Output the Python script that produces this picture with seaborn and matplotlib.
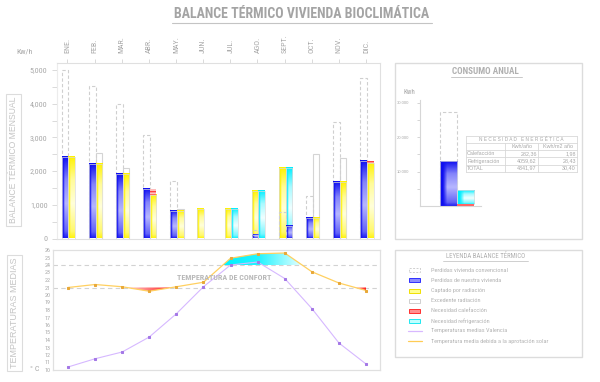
import numpy as np
import pandas as pd
import matplotlib
matplotlib.use('Agg')
import matplotlib.pyplot as plt
import seaborn as sns
from matplotlib.patches import Rectangle
from matplotlib.lines import Line2D
from matplotlib import font_manager
from matplotlib.colors import to_rgb

# ---------------- DATA ----------------
meses = ['ENE.', 'FEB.', 'MAR.', 'ABR.', 'MAY.', 'JUN.', 'JUL.', 'AGO.', 'SEPT.', 'OCT.', 'NOV.', 'DIC.']
meses_verano = ['JUN.', 'JUL.', 'AGO.', 'SEPT.']
perdidas_convencional = [5000, 4540, 3980, 3070, 1700, 0, 0, 250, 800, 1275, 3450, 4765]
perdidas_vivienda = [2430, 2215, 1920, 1480, 815, 0, 0, 100, 370, 600, 1665, 2305]
captado_radiacion = [2430, 2215, 1920, 1305, 815, 875, 880, 1420, 2100, 600, 1665, 2235]
excedente_radiacion = [0, 315, 180, 0, 75, 0, 0, 0, 0, 1910, 725, 0]
necesidad_calefaccion = [0, 0, 0, 175, 0, 0, 0, 0, 0, 0, 0, 70]
necesidad_refrigeracion = [0, 0, 0, 0, 0, 0, 880, 1420, 2100, 0, 0, 0]

temp_valencia = [10.4, 11.5, 12.4, 14.4, 17.5, 21.1, 24.0, 24.4, 22.2, 18.2, 13.6, 10.8]
temp_solar = [21.0, 21.4, 21.1, 20.5, 21.1, 21.7, 24.9, 25.5, 25.6, 23.1, 21.6, 20.6]
confort_min, confort_max = 21, 24

anual_convencional = 27200
anual_vivienda = 12970
anual_calefaccion = 282.36
anual_refrigeracion = 4059.62

tabla_filas = ['Calefacción', 'Refrigeración', 'TOTAL']
tabla_kwh = ['282,36', '4059,62', '4341,97']
tabla_kwh_m2 = ['1,98', '28,43', '30,40']

leyenda = ['Perdidas vivienda convencional', 'Perdidas de nuestra vivienda', 'Captado por radiación',
           'Excedente radiación', 'Necesidad calefacción', 'Necesidad refrigeración',
           'Temperaturas medias Valencia', 'Temperatura media debida a la aprotación solar']

df = pd.DataFrame({'mes': meses, 'conv': perdidas_convencional, 'viv': perdidas_vivienda,
                   'cap': captado_radiacion, 'exc': excedente_radiacion,
                   'cal': necesidad_calefaccion, 'ref': necesidad_refrigeracion,
                   'tv': temp_valencia, 'ts': temp_solar})
df['i'] = np.arange(len(df))

# ---------------- STYLE ----------------
sns.set_style('white')
names = {f.name for f in font_manager.fontManager.ttflist}
NARROW = next((n for n in ['Liberation Sans Narrow', 'Roboto Condensed', 'Open Sans Condensed'] if n in names), None)
REG = 'Liberation Sans' if 'Liberation Sans' in names else 'DejaVu Sans'
plt.rcParams['font.family'] = [REG, 'DejaVu Sans']
NF = NARROW if NARROW else REG

GRAY = '#a8a8a8'
LGRAY = '#d4d4d4'
W, H = 600, 382
fig = plt.figure(figsize=(6, 3.82), dpi=100)


def ax_px(x0, y0, x1, y1):
    return fig.add_axes([x0 / W, 1 - y1 / H, (x1 - x0) / W, (y1 - y0) / H])


def fx(x):
    return x / W


def fy(y):
    return 1 - y / H


BLUE = ((15, 15, 240), (182, 182, 255))
YELLOW = ((255, 242, 0), (255, 255, 218))
CYAN = ((0, 238, 255), (240, 255, 255))


def grad_rect(ax, x0, w, y0, h, cols, z):
    if h <= 0:
        return
    d = np.array(cols[0]) / 255.0
    l = np.array(cols[1]) / 255.0
    t = np.linspace(0, 1, 80)[:, None]
    s = np.linspace(0, 1, 16)[None, :]
    L = np.interp(t, [0, 0.08, 0.42, 0.72, 0.9, 1.0], [0.1, 0.5, 1.0, 0.7, 0.25, 0.0])
    Hs = np.clip((s - 0.15) / 0.25, 0, 1)
    f = (L * Hs)[..., None]
    img = d + (l - d) * f
    ax.imshow(img, extent=[x0, x0 + w, y0, y0 + h], origin='lower', aspect='auto',
              interpolation='bilinear', zorder=z)
    ax.add_patch(Rectangle((x0, y0), w, h, fill=False, ec='#dadada', lw=0.5, zorder=z + 0.05))


def red_rect(ax, x0, w, y0, h, z):
    if h <= 0:
        return
    ax.add_patch(Rectangle((x0, y0), w, h, fc='#ffc0c0', ec='#ff4040', hatch='-----', lw=0, zorder=z))


# ---------------- MAIN BAR CHART ----------------
ax = ax_px(56.5, 63, 380, 238.5)
BW = 0.245
L_OFF = -0.088 - BW / 2
R_OFF = 0.157 - BW / 2
lado_azul = {'SEPT.': R_OFF}

for _, r in df.iterrows():
    i = r['i']
    verano = r['mes'] in meses_verano
    xl, xr = i + L_OFF, i + R_OFF
    if r['exc'] > 0:
        ax.add_patch(Rectangle((xr, 0), BW, r['cap'] + r['exc'], fc='white', ec=LGRAY, lw=0.8, zorder=1))
    if r['conv'] > 0:
        ax.add_patch(Rectangle((xl, 0), BW, r['conv'], fill=False, ec='#cfcfcf', lw=0.8,
                               ls=(0, (3, 2)), zorder=4 if verano else 1))
    if verano:
        grad_rect(ax, xl, BW, 0, r['cap'], YELLOW, 2)
        grad_rect(ax, xr, BW, 0, r['ref'], CYAN, 2)
        grad_rect(ax, i + lado_azul.get(r['mes'], L_OFF), BW, 0, r['viv'], BLUE, 3)
    else:
        grad_rect(ax, xl, BW, 0, r['viv'], BLUE, 2)
        grad_rect(ax, xr, BW, 0, r['cap'], YELLOW, 2)
        red_rect(ax, xr, BW, r['cap'], r['cal'], 3)

ax.set_xlim(-0.405, 11.516)
ax.set_ylim(0, 5208)
ax.xaxis.tick_top()
ax.set_xticks(df['i'])
ax.set_xticklabels(meses, rotation=90, fontsize=5.8, color=GRAY, family=NF)
ax.tick_params(axis='x', which='both', direction='out', length=3, width=0.6, color=LGRAY, pad=4)
ax.set_yticks(range(0, 5001, 1000))
ax.set_yticklabels(['0', '1,000', '2,000', '3,000', '4,000', '5,000'], fontsize=5.8, color=GRAY, family=NF)
ax.set_yticks(range(500, 5000, 1000), minor=True)
ax.tick_params(axis='y', which='both', direction='out', length=3.5, width=0.6, color=LGRAY, pad=3,
               left=True)
for k, sp in ax.spines.items():
    sp.set_color('#e0e0e0')
    sp.set_linewidth(0.8)
ax.spines['left'].set_color('#ececec')

# ---------------- TEMPERATURE CHART ----------------
ax2 = ax_px(53, 250, 380, 370)
x = df['i'].to_numpy(dtype=float)
ts = df['ts'].to_numpy()


def grad_fill(mask, ref, c_from, c_to, stops):
    coll = ax2.fill_between(x, ts, ref, where=mask, interpolate=True, color='none', lw=0)
    a = np.array(to_rgb(c_from))
    b = np.array(to_rgb(c_to))
    s = np.interp(np.linspace(0, 1, 64), stops[0], stops[1])[None, :, None]
    img = np.repeat(a + (b - a) * s, 2, axis=0)
    for path in coll.get_paths():
        ext = path.get_extents()
        if ext.width <= 0 or ext.height <= 0:
            continue
        im = ax2.imshow(img, extent=[ext.x0, ext.x1, ext.y0, ext.y1], origin='lower',
                        aspect='auto', interpolation='bilinear', zorder=2)
        im.set_clip_path(path, transform=ax2.transData)


grad_fill(ts > confort_max, confort_max, '#00f2ff', '#e8ffff', ([0, 0.45, 1], [0, 0.15, 1]))
grad_fill(ts < confort_min, confort_min, '#ffd0d0', '#ff1818', ([0, 1], [0, 1]))

for yv in (confort_min, confort_max):
    ax2.axhline(yv, color='#d2d2d2', lw=0.8, ls=(0, (4, 3)), zorder=1)

sns.lineplot(data=df, x='i', y='tv', ax=ax2, color='#d6b8ff', lw=0.8, marker='s', markersize=1.8,
             markerfacecolor='#a478e6', markeredgecolor='#a478e6', zorder=4)
sns.lineplot(data=df, x='i', y='ts', ax=ax2, color='#ffd060', lw=0.9, marker='s', markersize=1.8,
             markerfacecolor='#e8a838', markeredgecolor='#e8a838', zorder=4)
ax2.text(5.75, 22.4, 'TEMPERATURA DE CONFORT', ha='center', va='center', fontsize=5.8,
         color='#b8b8b8', weight='bold', family=NF, zorder=5)

ax2.set_xlim(-0.553, 11.516)
ax2.set_ylim(10, 26)
ax2.set_xticks([])
ax2.set_yticks(range(10, 27))
ax2.set_yticklabels([str(v) for v in range(10, 27)], fontsize=4.3, color=GRAY, family=NF)
ax2.tick_params(axis='y', length=0, pad=2)
ax2.set_xlabel('')
ax2.set_ylabel('')
for sp in ax2.spines.values():
    sp.set_color('#e0e0e0')
    sp.set_linewidth(0.9)

# ---------------- LABELS ----------------
fig.text(fx(302), fy(14.5), 'BALANCE TÉRMICO VIVIENDA BIOCLIMÁTICA', ha='center', va='center',
         fontsize=10, weight='bold', color='#a4a4a4', family=NF)
fig.add_artist(Line2D([fx(172), fx(432)], [fy(23), fy(23)], color='#c4c4c4', lw=0.8))
fig.text(fx(25), fy(52), 'Kw/h', ha='center', va='center', fontsize=5.8, color=GRAY, family=NF)
fig.text(fx(13.5), fy(160), 'BALANCE TÉRMICO MENSUAL', rotation=90, ha='center', va='center',
         fontsize=6.2, color='#c4c4c4',
         bbox=dict(boxstyle='square,pad=0.3', fc='none', ec='#dcdcdc', lw=0.8))
fig.text(fx(14.5), fy(313), 'TEMPERATURAS MEDIAS', rotation=90, ha='center', va='center',
         fontsize=6.5, color='#c4c4c4',
         bbox=dict(boxstyle='square,pad=0.3', fc='none', ec='#dcdcdc', lw=0.8))
fig.text(fx(35), fy(369), '° C', ha='center', va='center', fontsize=5.8, color=GRAY, family=NF)

# ---------------- ANNUAL CONSUMPTION PANEL ----------------
fig.add_artist(Rectangle((fx(395), fy(239)), (582 - 395) / W, (239 - 63) / H, fill=False,
                         ec='#dcdcdc', lw=1, transform=fig.transFigure))
fig.text(fx(485), fy(72), 'CONSUMO ANUAL', ha='center', va='center', fontsize=6.6,
         weight='bold', color='#b0b0b0', family=NF)
fig.add_artist(Line2D([fx(451), fx(522)], [fy(77), fy(77)], color='#c8c8c8', lw=0.7))
fig.text(fx(409), fy(92), 'Kwh', ha='center', va='center', fontsize=5, color=GRAY, family=NF)

ax3 = ax_px(420, 100, 481, 206)
bx0, bx1, bw = 0.328, 0.607, 0.279
ax3.add_patch(Rectangle((bx0, 0), bw, anual_convencional, fill=False, ec='#cfcfcf', lw=0.8,
                        ls=(0, (3, 2)), zorder=1))
grad_rect(ax3, bx0, bw, 0, anual_vivienda, BLUE, 2)
red_rect(ax3, bx1, bw, 0, anual_calefaccion * 1.6, 3)
grad_rect(ax3, bx1, bw, anual_calefaccion * 1.6, anual_refrigeracion, CYAN, 2)
ax3.set_xlim(0, 1)
ax3.set_ylim(0, 30784)
ax3.set_xticks([])
ax3.set_yticks([10000, 20000, 30000])
ax3.set_yticklabels(['10.000', '20.000', '30.000'], fontsize=3, color=GRAY)
ax3.set_yticks([5000, 15000, 25000], minor=True)
ax3.tick_params(axis='y', which='both', direction='out', length=2.5, width=0.6, color='#cfcfcf',
                pad=5, left=True)
for k in ('top', 'right'):
    ax3.spines[k].set_visible(False)
for k in ('left', 'bottom'):
    ax3.spines[k].set_color('#d6d6d6')
    ax3.spines[k].set_linewidth(0.8)

# table
tx = [466, 505, 538.3, 577.3]
ty = [136, 142.7, 150, 157.3, 164.7, 171.7]
TC = '#d8d8d8'
for yv in ty:
    fig.add_artist(Line2D([fx(tx[0]), fx(tx[-1])], [fy(yv), fy(yv)], color=TC, lw=0.6))
for k, xv in enumerate(tx):
    y_top = ty[0] if k in (0, 3) else ty[1]
    fig.add_artist(Line2D([fx(xv), fx(xv)], [fy(y_top), fy(ty[-1])], color=TC, lw=0.6))
TS = 3.9
fig.text(fx((tx[0] + tx[-1]) / 2), fy((ty[0] + ty[1]) / 2), 'N E C E S I D A D   E N E R G É T I C A',
         ha='center', va='center', fontsize=3.4, color=GRAY)
fig.text(fx((tx[1] + tx[2]) / 2), fy((ty[1] + ty[2]) / 2), 'Kwh/año', ha='center', va='center',
         fontsize=TS, color=GRAY)
fig.text(fx((tx[2] + tx[3]) / 2), fy((ty[1] + ty[2]) / 2), 'Kwh/m2 año', ha='center', va='center',
         fontsize=TS, color=GRAY)
for k, (lab, v1, v2) in enumerate(zip(tabla_filas, tabla_kwh, tabla_kwh_m2)):
    yc = fy((ty[k + 2] + ty[k + 3]) / 2)
    fig.text(fx(tx[0] + 1), yc, lab, ha='left', va='center', fontsize=TS, color=GRAY)
    fig.text(fx(tx[2] - 1.5), yc, v1, ha='right', va='center', fontsize=TS, color=GRAY)
    fig.text(fx(tx[3] - 1.5), yc, v2, ha='right', va='center', fontsize=TS, color=GRAY)

# ---------------- LEGEND PANEL ----------------
fig.add_artist(Rectangle((fx(395), fy(357)), (582 - 395) / W, (357 - 250) / H, fill=False,
                         ec='#dcdcdc', lw=1, transform=fig.transFigure))
fig.text(fx(485.5), fy(256.5), 'LEYENDA BALANCE TÉRMICO', ha='center', va='center', fontsize=4.9,
         color='#b0b0b0', family=NF)
fig.add_artist(Line2D([fx(443), fx(528)], [fy(260.5), fy(260.5)], color='#c8c8c8', lw=0.6))
ly = [270, 280.2, 290.6, 300.6, 310.6, 320.7, 330.8, 341]
styles = [
    dict(fc='white', ec='#cfcfcf', ls=(0, (2, 1.5))),
    dict(fc='#8c8cff', ec='#3030ff', ls='-'),
    dict(fc='#ffff90', ec='#f0e000', ls='-'),
    dict(fc='white', ec='#cfcfcf', ls='-'),
    dict(fc='#ff9090', ec='#ff3030', ls='-'),
    dict(fc='#c0ffff', ec='#20e8f0', ls='-'),
]
for k, (txt, yv) in enumerate(zip(leyenda, ly)):
    if k < 6:
        st = styles[k]
        fig.add_artist(Rectangle((fx(409), fy(yv + 2)), 11 / W, 4 / H, fc=st['fc'], ec=st['ec'],
                                 ls=st['ls'], lw=0.7, transform=fig.transFigure))
    else:
        col = '#d8b8ff' if k == 6 else '#ffcc55'
        fig.add_artist(Line2D([fx(408), fx(422)], [fy(yv), fy(yv)], color=col, lw=0.9))
    fig.text(fx(431), fy(yv), txt, ha='left', va='center', fontsize=4.5, color='#b4b4b4', family=NF)

fig.savefig('out.png', dpi=100)
